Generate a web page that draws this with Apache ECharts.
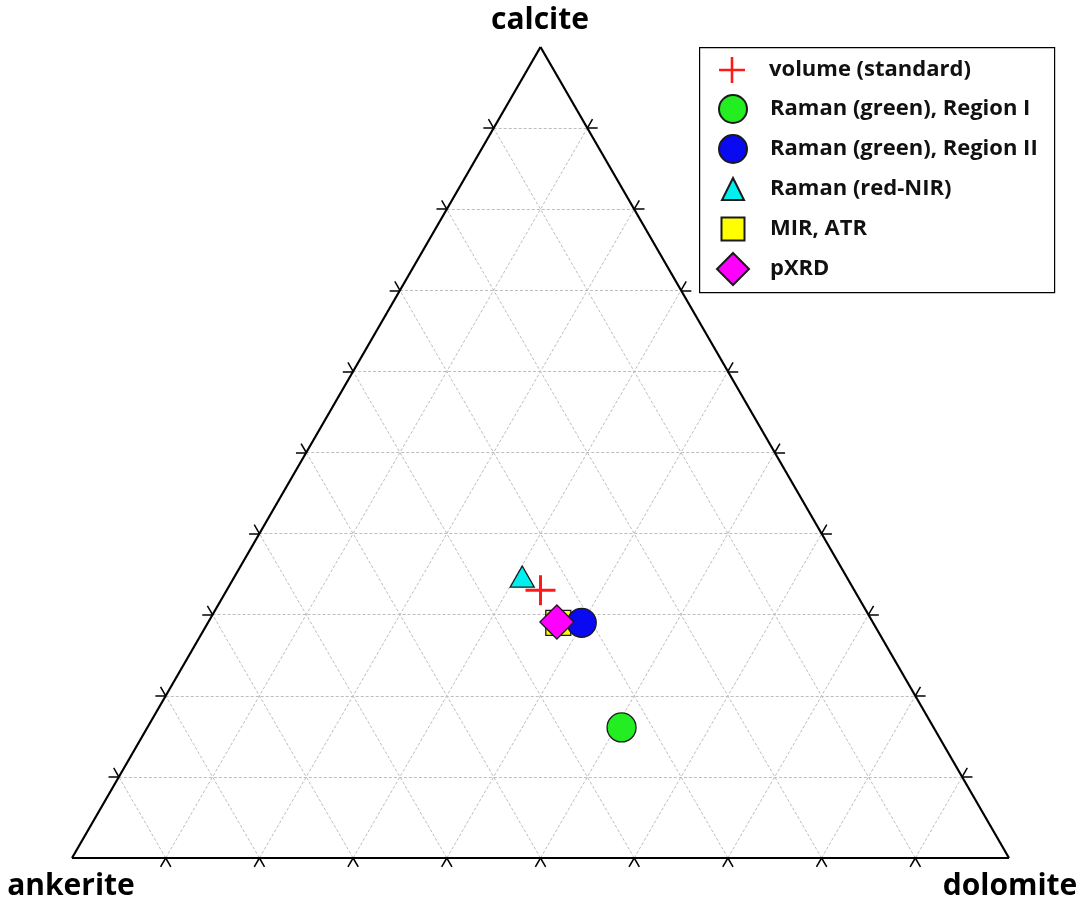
<!DOCTYPE html>
<html><head><meta charset="utf-8">
<script src="https://cdn.jsdelivr.net/npm/echarts@6/dist/echarts.min.js"></script>
<style>html,body{margin:0;padding:0;background:#fff}#chart{width:1081px;height:902px}</style>
</head><body><div id="chart"></div>
<script>
// ---- data (ternary fractions) ----
const seriesNames = ['volume (standard)', 'Raman (green), Region I', 'Raman (green), Region II', 'Raman (red-NIR)', 'MIR, ATR', 'pXRD'];
const calcite  = [0.330, 0.161, 0.290, 0.347, 0.290, 0.291];
const dolomite = [0.335, 0.506, 0.399, 0.307, 0.374, 0.372];
const ankerite = [0.335, 0.333, 0.311, 0.346, 0.336, 0.337];
const cornerLabels = ['calcite', 'ankerite', 'dolomite'];
const gridSteps = [0.1, 0.2, 0.3, 0.4, 0.5, 0.6, 0.7, 0.8, 0.9];

const H = Math.sqrt(3) / 2;
function tern(c, d) { return [d + c / 2, c * H]; }

// grid lines
const gridLines = [];
gridSteps.forEach(t => {
  gridLines.push({coords: [tern(t, 0), tern(t, 1 - t)]});        // const calcite
  gridLines.push({coords: [tern(0, t), tern(1 - t, t)]});        // const dolomite
  gridLines.push({coords: [tern(0, 1 - t), tern(1 - t, 0)]});    // const ankerite
});
const edges = [
  {coords: [tern(0, 0), tern(0, 1)]},
  {coords: [tern(0, 1), tern(1, 0)]},
  {coords: [tern(1, 0), tern(0, 0)]}
];
const L = 0.011;
const ticks = [];
gridSteps.forEach(t => {
  let p = tern(t, 0);
  ticks.push({coords: [p, [p[0] - L, p[1]]]});
  ticks.push({coords: [p, [p[0] - 0.5 * L, p[1] + H * L]]});
  p = tern(0, t);
  ticks.push({coords: [p, [p[0] - 0.5 * L, p[1] - H * L]]});
  ticks.push({coords: [p, [p[0] + 0.5 * L, p[1] - H * L]]});
  p = tern(t, 1 - t);
  ticks.push({coords: [p, [p[0] + L, p[1]]]});
  ticks.push({coords: [p, [p[0] + 0.5 * L, p[1] + H * L]]});
});

const plusPath = 'path://M0,45H100V55H0Z M45,0H55V100H45Z';
const styles = [
  {symbol: plusPath, size: 30, color: '#ff1a1a', border: 0, legendSize: 26},
  {symbol: 'circle', size: 29, color: '#22ee22', border: 1.3, legendSize: 28},
  {symbol: 'circle', size: 29, color: '#0a0af0', border: 1.3, legendSize: 28},
  {symbol: 'triangle', size: [24, 21], color: '#00f0f0', border: 1.3, legendSize: 22},
  {symbol: 'rect', size: 25, color: '#ffff00', border: 1.3, legendSize: 23},
  {symbol: 'diamond', size: 34, color: '#ff00ff', border: 1.3, legendSize: 32}
];
const drawOrder = [1, 4, 2, 5, 3, 0];
const legendCenters = [70, 108, 148, 188, 228, 268];
const iconCenterX = 732, textStartX = 769;

const scatterSeries = drawOrder.map(i => ({
  type: 'scatter',
  name: seriesNames[i],
  symbol: styles[i].symbol,
  symbolSize: styles[i].size,
  data: [tern(calcite[i], dolomite[i])],
  itemStyle: {color: styles[i].color, borderColor: '#1a1a1a', borderWidth: styles[i].border, opacity: 1},
  emphasis: {disabled: true},
  z: 5
}));

const legends = seriesNames.map((n, i) => {
  const s = styles[i].legendSize;
  return {
    data: [n],
    left: iconCenterX - s / 2,
    top: legendCenters[i] - s / 2,
    orient: 'vertical',
    padding: 0,
    itemWidth: s,
    itemHeight: s,
    selectedMode: false,
    textStyle: {fontSize: 22, fontWeight: 'bold', color: '#111', fontFamily: 'Open Sans',
                padding: [0, 0, 0, textStartX - (iconCenterX + s / 2 + 5)]}
  };
});

const chart = echarts.init(document.getElementById('chart'), null, {renderer: 'canvas'});
chart.setOption({
  animation: false,
  backgroundColor: '#fff',
  grid: {left: 72, top: 47, width: 937, height: 811},
  xAxis: {type: 'value', min: 0, max: 1, show: false},
  yAxis: {type: 'value', min: 0, max: H, show: false},
  legend: legends,
  graphic: [
    {type: 'rect', left: 699, top: 47, shape: {width: 355, height: 245}, style: {fill: '#fff', stroke: '#000', lineWidth: 1.2}, z: 0},
    {type: 'text', x: 540, y: 20, style: {text: cornerLabels[0], font: 'bold 30px "Open Sans"', fill: '#000', align: 'center', verticalAlign: 'middle'}},
    {type: 'text', x: 71, y: 886, style: {text: cornerLabels[1], font: 'bold 30px "Open Sans"', fill: '#000', align: 'center', verticalAlign: 'middle'}},
    {type: 'text', x: 1010, y: 886, style: {text: cornerLabels[2], font: 'bold 30px "Open Sans"', fill: '#000', align: 'center', verticalAlign: 'middle'}}
  ],
  series: [
    {type: 'lines', coordinateSystem: 'cartesian2d', silent: true, clip: false, data: gridLines,
     lineStyle: {color: '#bdbdbd', width: 1, type: [3, 2], opacity: 1}, z: 1},
    {type: 'lines', coordinateSystem: 'cartesian2d', silent: true, clip: false, data: ticks,
     lineStyle: {color: '#000', width: 1.5, opacity: 1}, z: 2},
    {type: 'lines', coordinateSystem: 'cartesian2d', silent: true, clip: false, data: edges,
     lineStyle: {color: '#000', width: 2.2, opacity: 1}, z: 3}
  ].concat(scatterSeries)
});
</script></body></html>
